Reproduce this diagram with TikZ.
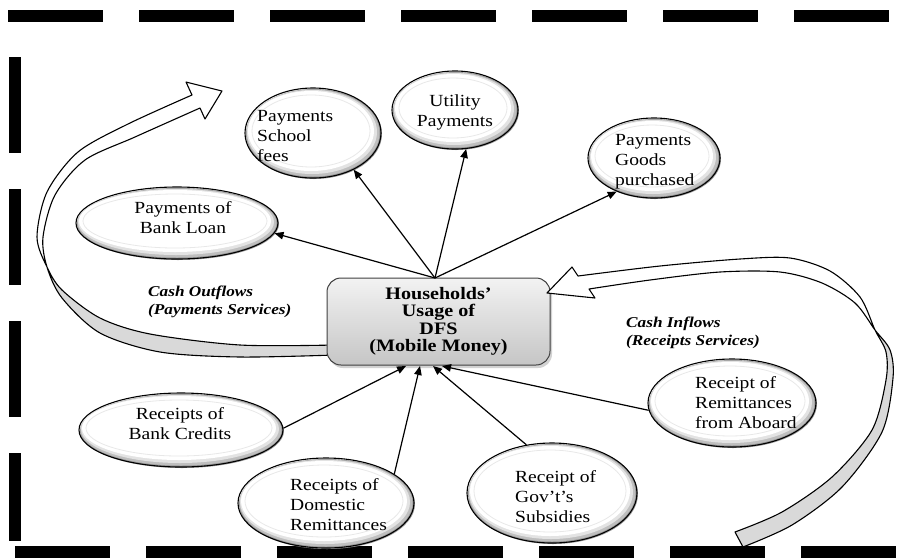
\documentclass[tikz,border=0pt]{standalone}
\usepackage{fontspec}
\setmainfont{Liberation Serif}[FakeStretch=1.15]
\usetikzlibrary{arrows.meta,shapes.geometric,shadows}

\tikzset{
  oval/.style={ellipse, draw=black, line width=1.1pt, inner sep=0pt},
  ovaltext/.style={font=\fontsize{17}{20}\selectfont, align=left, inner sep=0pt},
  ovaltextc/.style={ovaltext, align=center},
  hubbox/.style={rounded corners=14pt, minimum width=223pt, minimum height=87pt,
    top color=gray!10, bottom color=gray!45, draw=gray!50!black, line width=1pt,
    align=center, font=\bfseries\fontsize{17.5}{17.5}\selectfont,
    drop shadow={shadow xshift=2pt, shadow yshift=-3pt, opacity=0.35}},
  flowlabel/.style={font=\bfseries\itshape\fontsize{15}{18}\selectfont,
    align=left, inner sep=0pt, anchor=west},
  conn/.style={-{Triangle[length=9pt,width=7.5pt]}, line width=1.2pt},
  border/.style={line width=12pt, black},
  ribbon/.style={draw=black, line width=1.1pt, line join=round},
  underside/.style={fill=gray!30},
}

% oval with a shaded rim: name, x, y, x radius, y radius
\newcommand\ovalnode[5]{%
  \fill[gray!80] (#2+1,#3+1) ellipse [x radius=#4, y radius=#5];
  \fill[gray!50] (#2,#3) ellipse [x radius=#4-1.5, y radius=#5-1.5];
  \fill[gray!22] (#2-1,#3-1) ellipse [x radius=#4-3, y radius=#5-3];
  \fill[white] (#2-2,#3-2) ellipse [x radius=#4-5, y radius=#5-5];
  \draw[gray!18, line width=0.8pt] (#2-2,#3-2) ellipse [x radius=#4-9, y radius=#5-9];
  \node[oval, minimum width=#4*2pt, minimum height=#5*2pt] (#1) at (#2,#3) {};
}

\begin{document}
\begin{tikzpicture}[x=1pt, y=-1pt]
\useasboundingbox (0,0) rectangle (904,558);
\fill[white] (0,0) rectangle (904,558);

% dashed frame
\draw[border, dash pattern=on 95pt off 36pt] (8,16) -- (904,16);
\draw[border, dash pattern=on 96pt off 36pt] (15,57) -- (15,541);
\draw[border, dash pattern=on 95pt off 36pt] (15,552) -- (904,552);

% outflow ribbon (left)
\fill[underside] plot[smooth] coordinates {(335,355) (240,357) (160,352) (100,333) (62,298) (47,267)}
  -- plot[smooth] coordinates {(47,267) (62,290) (100,318) (150,334) (240,345) (335,345)} -- cycle;
\fill[white] plot[smooth] coordinates {(47,267) (37,237) (47,192) (78,152) (128,124) (192,95)}
  -- (186,82) -- (222,91) -- (205,119) -- (200,108)
  -- plot[smooth] coordinates {(200,108) (135,137) (85,160) (55,195) (43,237) (47,267)} -- cycle;
\draw[ribbon] plot[smooth] coordinates {(335,345) (240,345) (150,334) (100,318) (62,290) (47,267) (37,237) (47,192) (78,152) (128,124) (192,95)}
  -- (186,82) -- (222,91) -- (205,119) -- (200,108)
  -- plot[smooth] coordinates {(200,108) (135,137) (85,160) (55,195) (43,237) (47,267) (62,298) (100,333) (160,352) (240,357) (335,355)};

% ovals
\ovalnode{school}{313}{133}{68}{45}
\ovalnode{utility}{455}{110}{63}{39}
\ovalnode{goods}{654}{158}{66}{40}
\ovalnode{loan}{177}{223}{101}{36}
\ovalnode{credits}{181}{430}{102}{37}
\ovalnode{domestic}{326}{503}{88}{45}
\ovalnode{govt}{552}{493}{85}{50}
\ovalnode{aboard}{732}{403}{84}{44}

% central box
\node[hubbox] (hub) at (438.5,321.5) {Households’\\Usage of\\DFS\\(Mobile Money)};

% inflow ribbon (right)
\fill[underside] plot[smooth] coordinates {(875,330) (886,352) (886,380) (872,430) (832,477) (782,512) (735,532)}
  -- (743,547) -- plot[smooth] coordinates {(743,547) (792,525) (842,487) (882,432) (893,378) (890,350) (875,330)} -- cycle;
\fill[white] plot[smooth] coordinates {(875,330) (860,297) (830,271) (790,258) (740,259) (660,266) (578,276)}
  -- (572,267) -- (547,293) -- (595,298) -- (589,289)
  -- plot[smooth] coordinates {(589,289) (650,280) (720,272) (780,272) (822,283) (855,303) (875,330)} -- cycle;
\draw[ribbon] plot[smooth] coordinates {(735,532) (782,512) (832,477) (872,430) (886,380) (886,352) (875,330) (860,297) (830,271) (790,258) (740,259) (660,266) (578,276)}
  -- (572,267) -- (547,293) -- (595,298) -- (589,289)
  -- plot[smooth] coordinates {(589,289) (650,280) (720,272) (780,272) (822,283) (855,303) (875,330) (890,350) (893,378) (882,432) (842,487) (792,525) (743,547)} -- cycle;

% texts
\node[ovaltext, anchor=west] (t-school) at (257,136) {Payments\\School\\fees};
\node[ovaltextc] (t-utility) at (455,112) {Utility\\Payments};
\node[ovaltext, anchor=west] (t-goods) at (615,162) {Payments\\Goods\\purchased};
\node[ovaltextc] (t-loan) at (183,218) {Payments of\\Bank Loan};
\node[ovaltextc] (t-credits) at (180,424) {Receipts of\\Bank Credits};
\node[ovaltext, anchor=west] (t-domestic) at (290,505) {Receipts of\\Domestic\\Remittances};
\node[ovaltext, anchor=west] (t-govt) at (515,497) {Receipt of\\Gov’t’s\\Subsidies};
\node[ovaltext, anchor=west] (t-aboard) at (695,403) {Receipt of\\Remittances\\from Aboard};
\node[flowlabel] (outflow) at (148,302) {Cash Outflows\\(Payments Services)};
\node[flowlabel] (inflow) at (626,333) {Cash Inflows\\(Receipts Services)};

% connectors
\coordinate (fan) at (435,278);
\coordinate (in1) at (406,366);
\coordinate (in2) at (420,366);
\coordinate (in3) at (433,366);
\coordinate (in4) at (442,366);
\draw[conn] (fan) -- (loan.-6);
\draw[conn] (fan) -- (school.-42);
\draw[conn] (fan) -- (utility.-74);
\draw[conn] (fan) -- (goods.222);
\draw[conn] (credits.1) -- (in1);
\draw[conn] (domestic.23) -- (in2);
\draw[conn] (govt.118) -- (in3);
\draw[conn] (aboard.185) -- (in4);
\end{tikzpicture}
\end{document}
